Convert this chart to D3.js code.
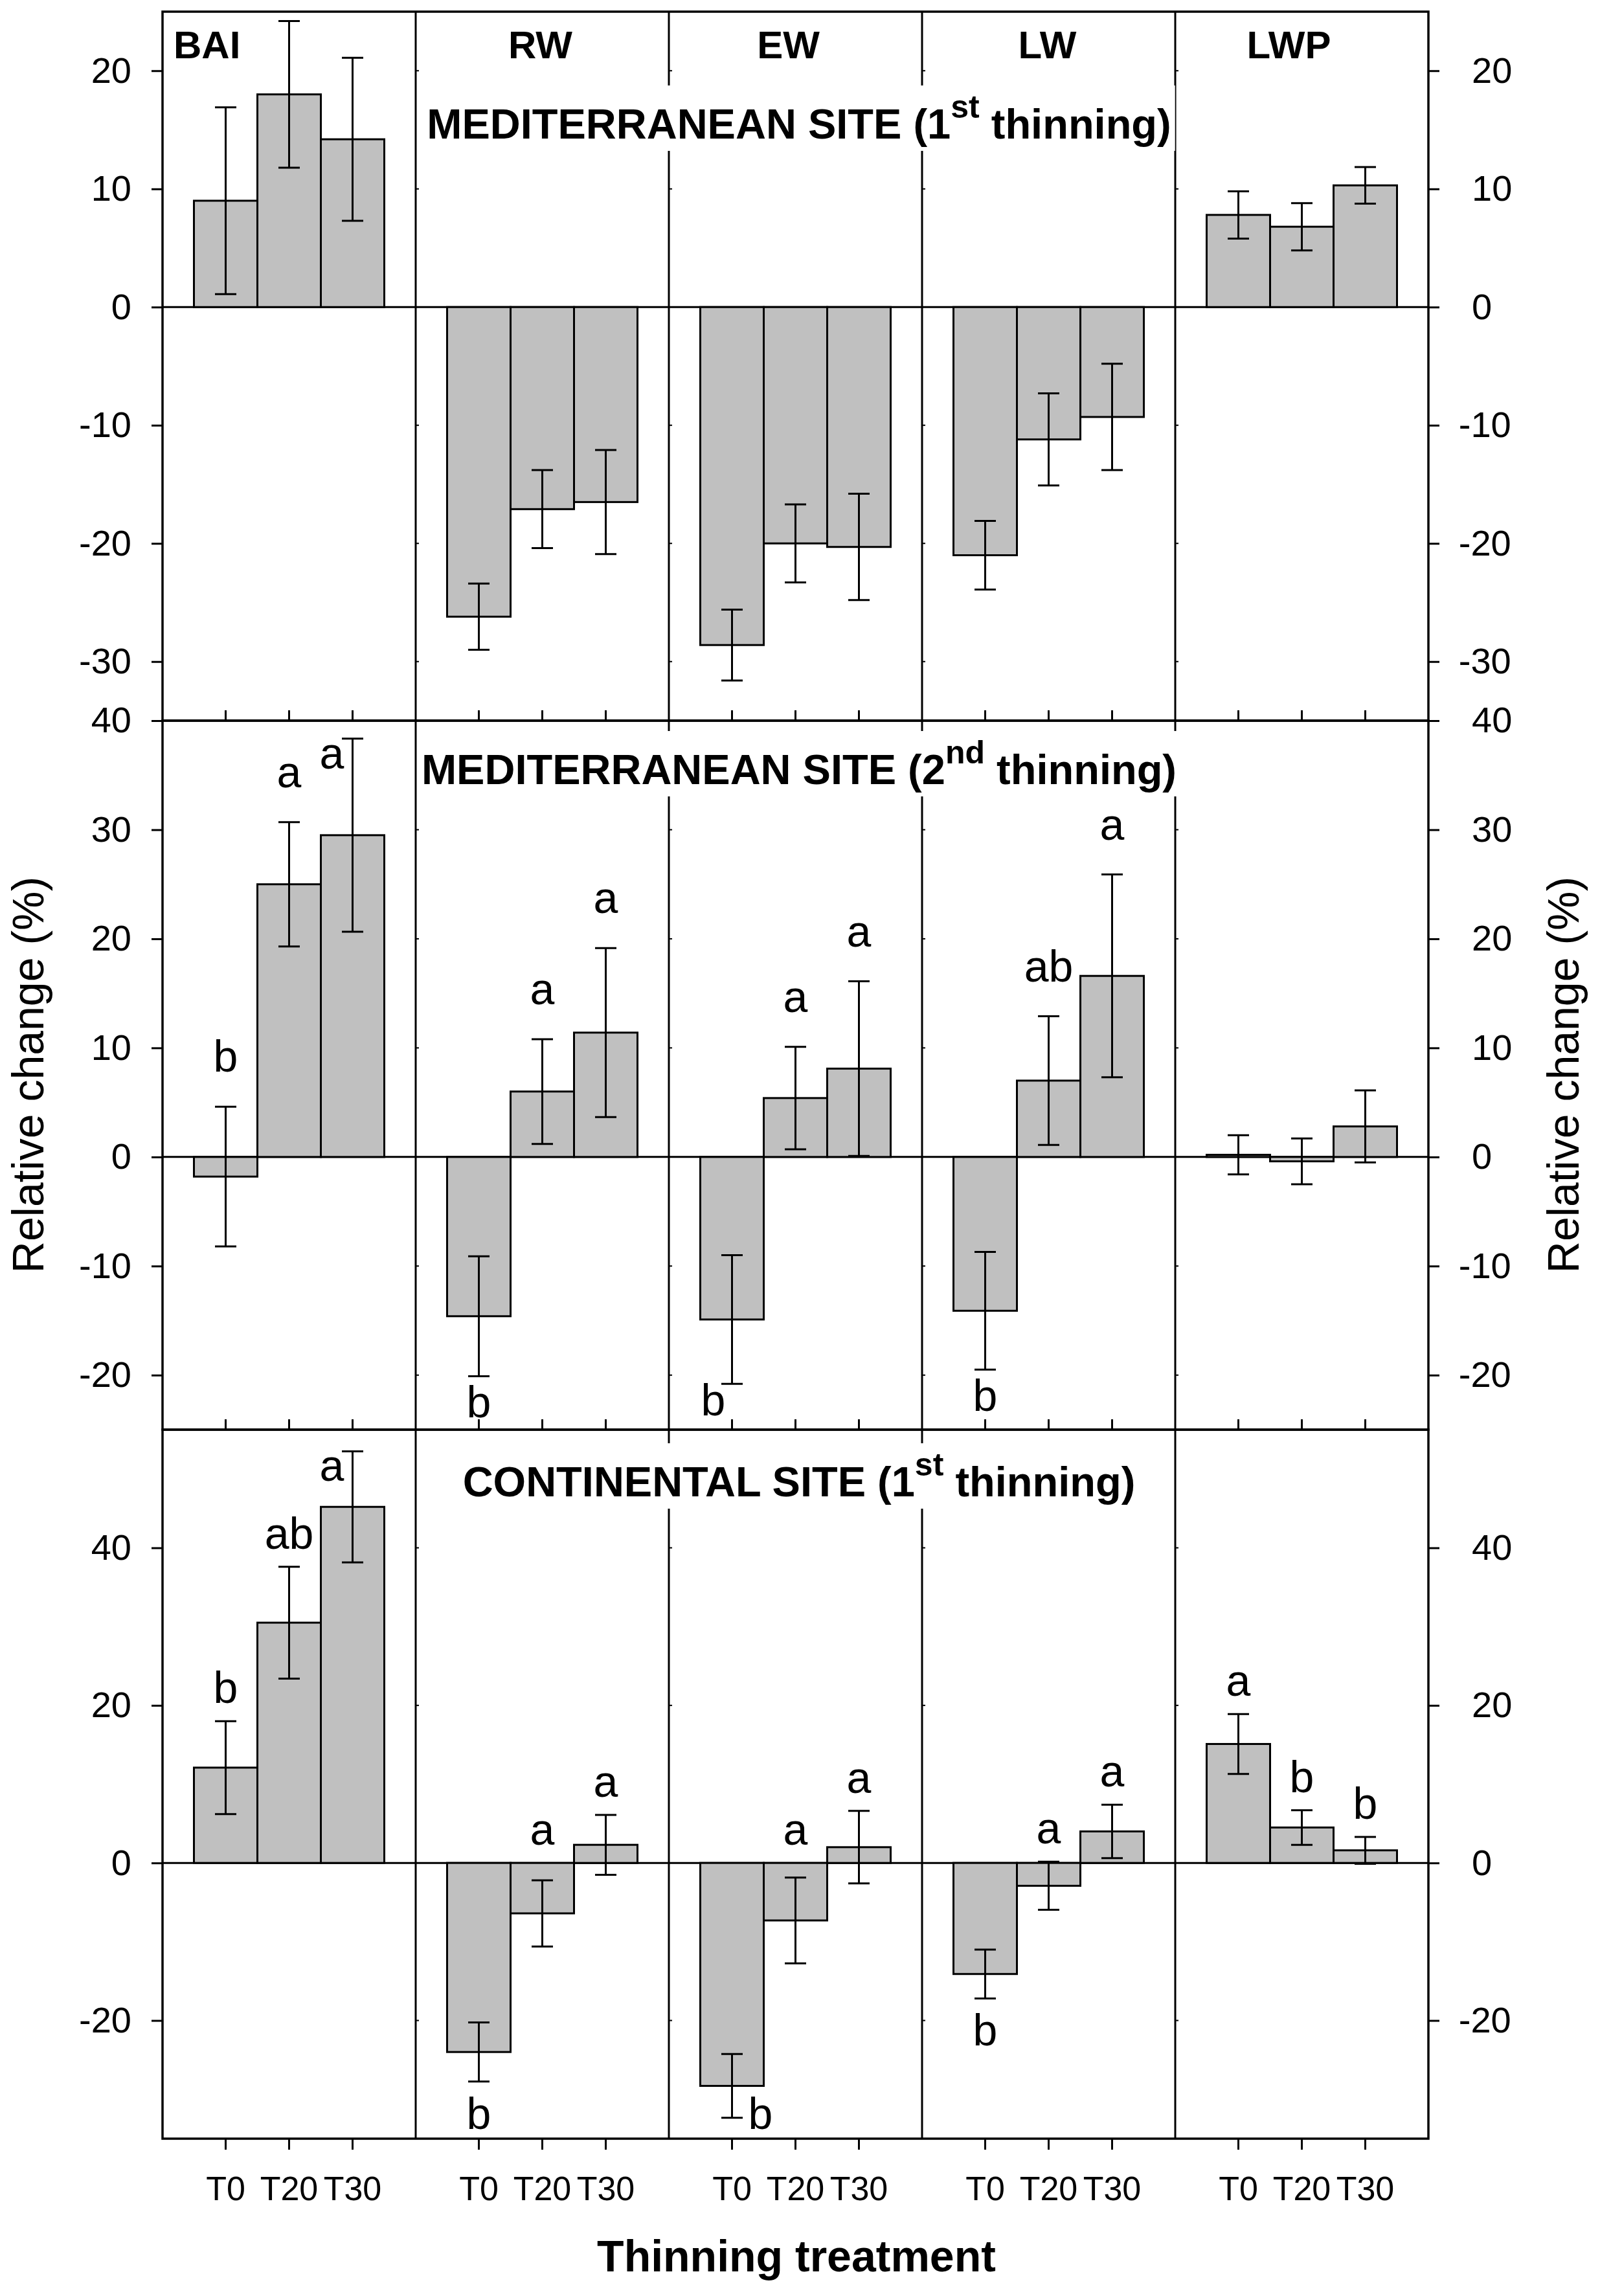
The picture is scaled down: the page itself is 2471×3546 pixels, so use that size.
<!DOCTYPE html>
<html>
<head>
<meta charset="utf-8">
<script src="https://cdn.jsdelivr.net/npm/d3@7"></script>
<style>
  body { margin: 0; background: #fff; }
  svg { display: block; }
</style>
</head>
<body>
<script>
// ---- data ----
const columns = ["BAI", "RW", "EW", "LW", "LWP"];
const treatments = ["T0", "T20", "T30"];

const titlePre = ["MEDITERRANEAN SITE (1", "MEDITERRANEAN SITE (2", "CONTINENTAL SITE (1"];
const titleSup = ["st", "nd", "st"];
const titlePost = [" thinning)", " thinning)", " thinning)"];

const yDomains = [[-35, 25], [-25, 40], [-35, 55]];
const yTicks = [
  [-30, -20, -10, 0, 10, 20],
  [-20, -10, 0, 10, 20, 30, 40],
  [-20, 0, 20, 40]
];

// mean relative change (%), one row per variable, T0 / T20 / T30
const med1Mean = [[9.0, 18.0, 14.2], [-26.2, -17.1, -16.5], [-28.6, -20.0, -20.3], [-21.0, -11.2, -9.3], [7.8, 6.8, 10.3]];
const med1Se   = [[7.9, 6.2, 6.9], [2.8, 3.3, 4.4], [3.0, 3.3, 4.5], [2.9, 3.9, 4.5], [2.0, 2.0, 1.55]];

const med2Mean = [[-1.8, 25.0, 29.5], [-14.6, 6.0, 11.4], [-14.9, 5.4, 8.1], [-14.1, 7.0, 16.6], [0.2, -0.4, 2.8]];
const med2Se   = [[6.4, 5.7, 8.85], [5.5, 4.8, 7.75], [5.9, 4.7, 8.0], [5.4, 5.9, 9.3], [1.8, 2.1, 3.3]];
const med2Letters = [["b", "a", "a"], ["b", "a", "a"], ["b", "a", "a"], ["b", "ab", "a"], ["", "", ""]];
const med2Sides   = [["u", "u", "l"], ["d", "u", "u"], ["dl", "u", "u"], ["d", "u", "u"], ["", "", ""]];

const contMean = [[12.1, 30.5, 45.2], [-24.0, -6.4, 2.3], [-28.3, -7.3, 2.0], [-14.1, -2.9, 4.0], [15.1, 4.5, 1.6]];
const contSe   = [[5.9, 7.1, 7.05], [3.75, 4.2, 3.8], [4.05, 5.45, 4.6], [3.1, 3.05, 3.4], [3.8, 2.2, 1.7]];
const contLetters = [["b", "ab", "a"], ["b", "a", "a"], ["b", "a", "a"], ["b", "a", "a"], ["a", "b", "b"]];
const contSides   = [["u", "u", "l"], ["d", "u", "u"], ["r", "u", "u"], ["d", "u", "u"], ["u", "u", "u"]];

const panelMeans = [med1Mean, med2Mean, contMean];
const panelSe = [med1Se, med2Se, contSe];
const panelLetters = [null, med2Letters, contLetters];
const panelSides = [null, med2Sides, contSides];

// ---- layout ----
const W = 2471, H = 3546;
const left = 251, right = 2206;
const tops = [18, 1113, 2208];
const ph = 1095;
const gapUp = [0, 54, 28];
const gapDown = [0, 64, 73];
const font = "'Liberation Sans', Arial, Helvetica, sans-serif";
// small nudges of the column headers, as in the original figure
const headShift = { BAI: 0, RW: -3, EW: -11, LW: -2, LWP: -20 };

const svg = d3.select("body")
  .append("svg")
  .attr("width", W)
  .attr("height", H)
  .attr("viewBox", `0 0 ${W} ${H}`)
  .style("font-family", font);

const xCol = d3.scaleBand(columns, [left, right]);
const xIn = d3.scaleBand(treatments, [48.5, 342.5]);
const cx = (c, t) => xCol(c) + xIn(t) + xIn.bandwidth() / 2;

for (let i = 0; i < 3; i++) {
  const top = tops[i], bottom = tops[i] + ph;
  const y = d3.scaleLinear(yDomains[i], [bottom, top]);
  const g = svg.append("g");

  // column dividers with tiny inner ticks
  for (let c of columns.slice(1)) {
    g.append("line")
      .attr("x1", xCol(c)).attr("x2", xCol(c))
      .attr("y1", top).attr("y2", bottom)
      .attr("stroke", "#000").attr("stroke-width", 3);
    g.selectAll(null)
      .data(yTicks[i].filter(v => v !== 0))
      .join("line")
      .attr("x1", xCol(c)).attr("x2", xCol(c) + 5)
      .attr("y1", d => y(d)).attr("y2", d => y(d))
      .attr("stroke", "#000").attr("stroke-width", 2);
  }

  // zero line
  g.append("line")
    .attr("x1", left).attr("x2", right)
    .attr("y1", y(0)).attr("y2", y(0))
    .attr("stroke", "#000").attr("stroke-width", 3);

  const rows = columns.flatMap((c, ci) => treatments.map((t, ti) => ({
    c, t,
    m: panelMeans[i][ci][ti],
    se: panelSe[i][ci][ti],
    letter: panelLetters[i] ? panelLetters[i][ci][ti] : "",
    side: panelSides[i] ? panelSides[i][ci][ti] : ""
  })));

  // bars
  g.selectAll("rect.bar")
    .data(rows)
    .join("rect")
    .attr("class", "bar")
    .attr("x", d => xCol(d.c) + xIn(d.t))
    .attr("width", xIn.bandwidth())
    .attr("y", d => y(Math.max(0, d.m)))
    .attr("height", d => Math.abs(y(d.m) - y(0)))
    .attr("fill", "#c0c0c0")
    .attr("stroke", "#000")
    .attr("stroke-width", 3);

  // error bars
  const eb = g.selectAll("g.err").data(rows).join("g").attr("class", "err")
    .attr("stroke", "#000").attr("stroke-width", 3);
  eb.append("line")
    .attr("x1", d => cx(d.c, d.t)).attr("x2", d => cx(d.c, d.t))
    .attr("y1", d => y(d.m + d.se)).attr("y2", d => y(d.m - d.se));
  eb.append("line")
    .attr("x1", d => cx(d.c, d.t) - 16.5).attr("x2", d => cx(d.c, d.t) + 16.5)
    .attr("y1", d => y(d.m + d.se)).attr("y2", d => y(d.m + d.se));
  eb.append("line")
    .attr("x1", d => cx(d.c, d.t) - 16.5).attr("x2", d => cx(d.c, d.t) + 16.5)
    .attr("y1", d => y(d.m - d.se)).attr("y2", d => y(d.m - d.se));

  // significance letters
  g.selectAll("text.letter")
    .data(rows.filter(d => d.letter))
    .join("text")
    .attr("class", "letter")
    .attr("font-size", 68)
    .attr("text-anchor", "middle")
    .attr("x", d => {
      const x0 = cx(d.c, d.t);
      if (d.side === "l") return x0 - 32;
      if (d.side === "r") return x0 + 44;
      if (d.side === "dl") return x0 - 29;
      return x0;
    })
    .attr("y", d => {
      const hi = d.m + d.se, lo = d.m - d.se;
      if (d.side === "l") return y(hi) + 46;
      if (d.side === "r") return y(lo) + 17;
      if (d.side === "dl") return y(lo) + gapDown[i] - 15;
      if (d.side === "d") return y(lo) + gapDown[i];
      return y(Math.max(0, hi)) - gapUp[i];
    })
    .text(d => d.letter);

  // bottom x ticks: inward for the upper panels, outward for the last one
  const tickDir = i === 2 ? 17 : -16;
  g.selectAll("line.xtick")
    .data(columns.flatMap(c => treatments.map(t => cx(c, t))))
    .join("line")
    .attr("class", "xtick")
    .attr("x1", d => d).attr("x2", d => d)
    .attr("y1", bottom).attr("y2", bottom + tickDir)
    .attr("stroke", "#000").attr("stroke-width", 3);

  // y axes on both sides
  const axL = g.append("g")
    .attr("transform", `translate(${left},0)`)
    .call(d3.axisLeft(y).tickValues(yTicks[i]).tickSize(17).tickPadding(31).tickFormat(d => String(d)));
  const axR = g.append("g")
    .attr("transform", `translate(${right},0)`)
    .call(d3.axisRight(y).tickValues(yTicks[i]).tickSize(17).tickPadding(50).tickFormat(d => String(d)));
  for (let ax of [axL, axR]) {
    ax.select(".domain").remove();
    ax.selectAll(".tick line").attr("stroke-width", 3);
    ax.selectAll(".tick text")
      .attr("font-size", 56)
      .attr("font-family", font)
      .attr("fill", "#000");
  }
  axR.selectAll(".tick text").attr("dx", d => d < 0 ? "-0.36em" : 0);

  // panel title with white box behind it
  const titleY = [214, 1211, 2311][i];
  const title = g.append("text")
    .attr("x", 1234)
    .attr("y", titleY)
    .attr("text-anchor", "middle")
    .attr("font-size", 65)
    .attr("font-weight", "bold");
  title.append("tspan").text(titlePre[i]);
  title.append("tspan").attr("dy", -32).attr("font-size", 50).text(titleSup[i]);
  title.append("tspan").attr("dy", 32).text(titlePost[i]);
  const bb = title.node().getBBox();
  g.insert("rect", () => title.node())
    .attr("x", bb.x - 6).attr("y", bb.y - 5)
    .attr("width", bb.width + 12).attr("height", bb.height + 10)
    .attr("fill", "#fff");

  // frame
  g.append("rect")
    .attr("x", left).attr("y", top)
    .attr("width", right - left).attr("height", ph)
    .attr("fill", "none")
    .attr("stroke", "#000")
    .attr("stroke-width", 3.5);
}

// column headers in the top panel
svg.selectAll("text.colhead")
  .data(columns)
  .join("text")
  .attr("class", "colhead")
  .attr("x", d => d === "BAI" ? 268 : xCol(d) + xCol.bandwidth() / 2 + headShift[d])
  .attr("y", 90)
  .attr("text-anchor", d => d === "BAI" ? "start" : "middle")
  .attr("font-size", 60)
  .attr("font-weight", "bold")
  .text(d => d);

// treatment labels under the last panel
svg.selectAll("text.xlab")
  .data(columns.flatMap(c => treatments.map(t => ({ c, t }))))
  .join("text")
  .attr("class", "xlab")
  .attr("x", d => cx(d.c, d.t))
  .attr("y", 3398)
  .attr("text-anchor", "middle")
  .attr("font-size", 52)
  .text(d => d.t);

svg.append("text")
  .attr("x", 1230)
  .attr("y", 3508)
  .attr("text-anchor", "middle")
  .attr("font-size", 68)
  .attr("font-weight", "bold")
  .text("Thinning treatment");

for (let xb of [67, 2438]) {
  svg.append("text")
    .attr("transform", `translate(${xb},1660) rotate(-90)`)
    .attr("text-anchor", "middle")
    .attr("font-size", 68)
    .text("Relative change (%)");
}
</script>
</body>
</html>
